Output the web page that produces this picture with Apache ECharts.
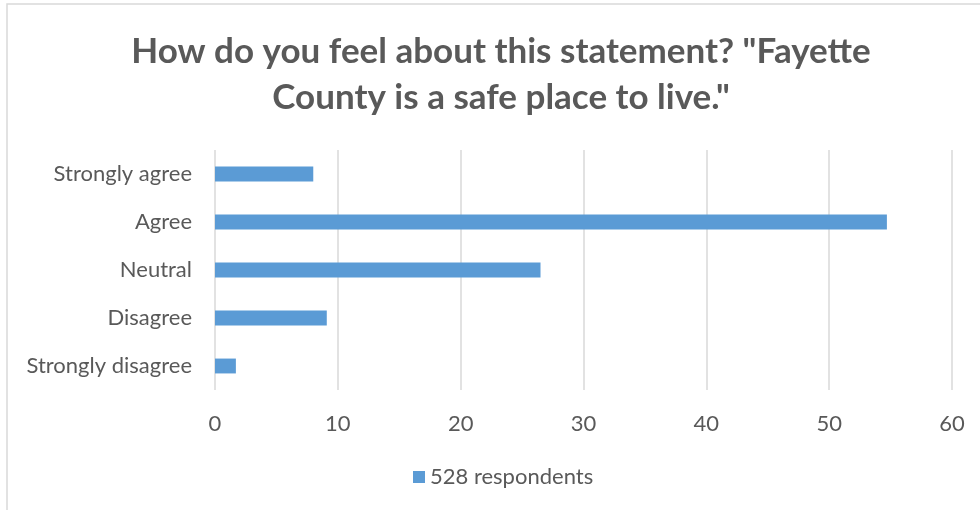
<!DOCTYPE html>
<html>
<head>
<meta charset="utf-8">
<script src="https://cdn.jsdelivr.net/npm/echarts@6/dist/echarts.min.js"></script>
<style>html,body{margin:0;padding:0;background:#fff}#c{width:980px;height:510px}</style>
</head>
<body>
<div id="c"></div>
<script>
const titleText = 'How do you feel about this statement? "Fayette\nCounty is a safe place to live."';
const categories = ['Strongly agree', 'Agree', 'Neutral', 'Disagree', 'Strongly disagree'];
const values = [8.0, 54.7, 26.5, 9.1, 1.7];
const seriesName = '528 respondents';
const xMin = 0, xMax = 60, xInterval = 10;

const FONT = 'Lato';
const chart = echarts.init(document.getElementById('c'), null, {renderer: 'canvas'});
chart.setOption({
  animation: false,
  backgroundColor: '#fff',
  graphic: [{
    type: 'rect', shape: {x: 7, y: 4, width: 1000, height: 600},
    style: {fill: 'none', stroke: '#d9d9d9', lineWidth: 1.5}, silent: true, z: -1
  }],
  title: {
    text: titleText, left: 496, textAlign: 'center', top: 24,
    textStyle: {fontFamily: FONT, fontWeight: 'bold', fontSize: 35, color: '#595959', lineHeight: 46}
  },
  grid: {left: 215, right: 28, top: 150, bottom: 120, containLabel: false},
  legend: {
    bottom: 22, left: 413, padding: 0, itemWidth: 12, itemHeight: 12, itemGap: 6,
    icon: 'rect',
    textStyle: {fontFamily: FONT, fontSize: 22, color: '#595959'},
    data: [seriesName]
  },
  xAxis: {
    type: 'value', min: xMin, max: xMax, interval: xInterval,
    axisLine: {show: false}, axisTick: {show: false},
    splitLine: {lineStyle: {color: '#d9d9d9', width: 1.5}},
    axisLabel: {fontFamily: FONT, fontSize: 22, color: '#595959', margin: 23}
  },
  yAxis: {
    type: 'category', inverse: true, data: categories,
    axisLine: {show: false}, axisTick: {show: false},
    axisLabel: {fontFamily: FONT, fontSize: 22, color: '#595959', margin: 23}
  },
  series: [{
    name: seriesName, type: 'bar', data: values, barWidth: '31%',
    itemStyle: {color: '#5b9bd5'}
  }]
});
</script>
</body>
</html>
